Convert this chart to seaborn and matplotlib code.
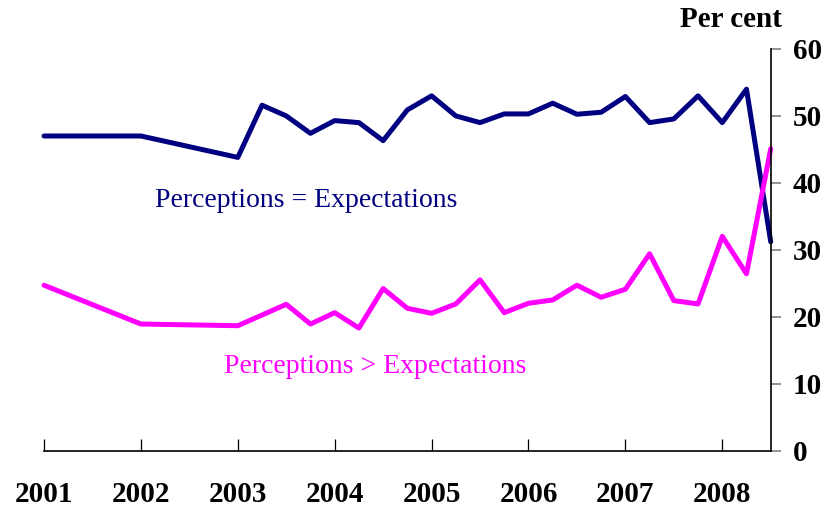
import matplotlib
matplotlib.use("Agg")
import matplotlib.pyplot as plt
import seaborn as sns
import pandas as pd

# ---- data ----
periods = [2001.0, 2002.0,
           2003.0, 2003.25, 2003.5, 2003.75,
           2004.0, 2004.25, 2004.5, 2004.75,
           2005.0, 2005.25, 2005.5, 2005.75,
           2006.0, 2006.25, 2006.5, 2006.75,
           2007.0, 2007.25, 2007.5, 2007.75,
           2008.0, 2008.25, 2008.5]
equal_vals = [47.0, 47.0,
              43.8, 51.6, 50.0, 47.4,
              49.3, 49.0, 46.3, 50.9,
              53.0, 50.0, 49.0, 50.3,
              50.3, 51.9, 50.25, 50.55,
              52.9, 49.0, 49.55, 53.0,
              49.0, 54.0, 31.2]
greater_vals = [24.7, 18.9,
                18.65, 20.25, 21.85, 18.9,
                20.6, 18.3, 24.2, 21.25,
                20.5, 21.9, 25.5, 20.6,
                22.0, 22.5, 24.7, 22.9,
                24.1, 29.4, 22.4, 21.9,
                32.0, 26.4, 45.1]
series_names = ["Perceptions = Expectations", "Perceptions > Expectations"]
year_ticks = [2001, 2002, 2003, 2004, 2005, 2006, 2007, 2008]
year_labels = ["2001", "2002", "2003", "2004", "2005", "2006", "2007", "2008"]
y_ticks = [0, 10, 20, 30, 40, 50, 60]
unit_label = "Per cent"

navy = "#000080"
magenta = "#FF00FF"

df = pd.DataFrame({
    "period": periods * 2,
    "value": equal_vals + greater_vals,
    "series": [series_names[0]] * len(periods) + [series_names[1]] * len(periods),
})

sns.set_style("white")
plt.rcParams["font.family"] = ["Liberation Serif", "DejaVu Serif"]
plt.rcParams["text.color"] = "black"
plt.rcParams["xtick.color"] = "black"
plt.rcParams["ytick.color"] = "black"

fig = plt.figure(figsize=(8.29, 5.12), dpi=100)
ax = fig.add_axes([0.0531, 0.1201, 0.9297 - 0.0531, 0.9043 - 0.1201])

sns.lineplot(data=df, x="period", y="value", hue="series",
             palette={series_names[0]: navy, series_names[1]: magenta},
             linewidth=3.6, legend=False, ax=ax, clip_on=False)

ax.set_xlim(2001, 2008.5)
ax.set_ylim(0, 60)
ax.set_xlabel("")
ax.set_ylabel("")

for s in ["top", "left"]:
    ax.spines[s].set_visible(False)
ax.spines["right"].set_visible(True)
ax.spines["bottom"].set_visible(True)
ax.spines["right"].set_color("black")
ax.spines["bottom"].set_color("black")
ax.spines["right"].set_linewidth(1.2)
ax.spines["bottom"].set_linewidth(1.2)

ax.yaxis.tick_right()
ax.set_yticks(y_ticks)
ax.set_yticklabels([str(v) for v in y_ticks], fontsize=21, fontweight="bold",
                   color="black")
ax.tick_params(axis="y", which="both", right=True, left=False, direction="out",
               length=7, width=1.2, color="gray", pad=9)

ax.set_xticks(year_ticks)
ax.set_xticklabels(year_labels, fontsize=21, fontweight="bold", color="black")
ax.tick_params(axis="x", which="both", bottom=True, direction="in",
               length=9, width=0.9, color="black", pad=22)

ax.grid(False)

ax.text(2002.15, 37.3, series_names[0], color=navy, fontsize=20,
        ha="left", va="center")
ax.text(2002.86, 12.6, series_names[1], color=magenta, fontsize=20,
        ha="left", va="center")

fig.text(0.882, 0.962, unit_label, fontsize=21, fontweight="bold",
         color="black", ha="center", va="center")

fig.savefig("out.png", dpi=100)
